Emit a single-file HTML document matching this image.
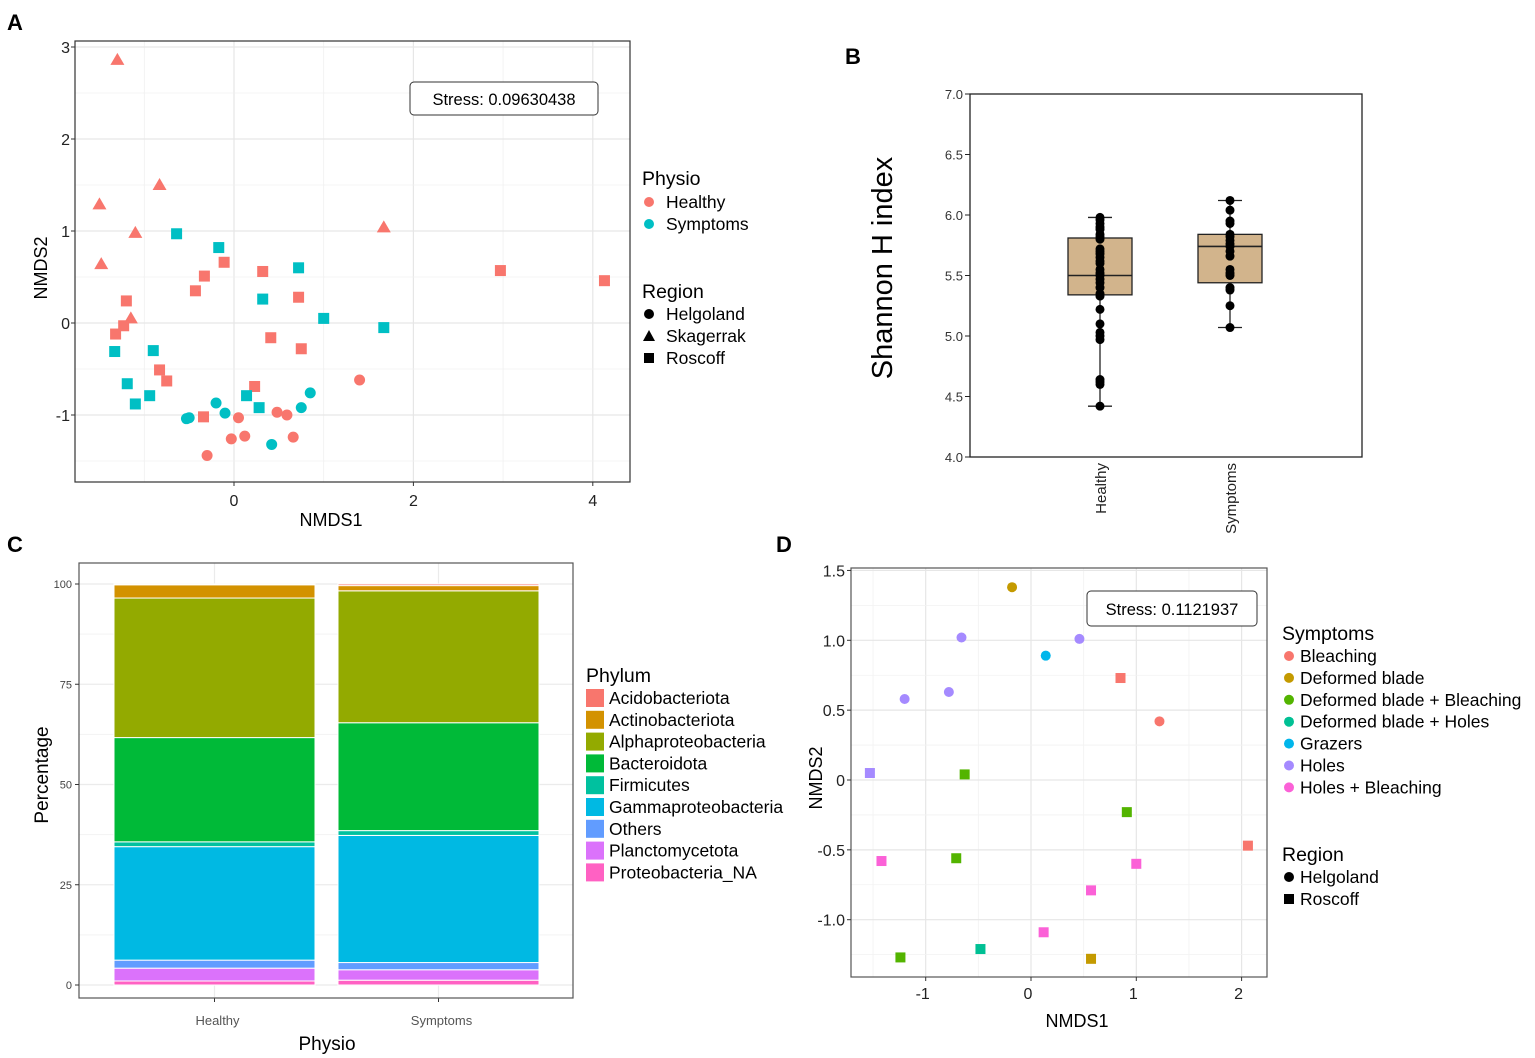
<!DOCTYPE html>
<html><head><meta charset="utf-8"><style>
html,body{margin:0;padding:0;background:#fff;}
svg{display:block;font-family:"Liberation Sans",Arial,sans-serif;}
</style></head><body>
<svg id="fig" width="1535" height="1058" viewBox="0 0 1535 1058"></svg>
<script>
// ---------- Panel A data ----------
const aTriX=[-1.30,-1.50,-0.83,-1.10,-1.48,-1.15,1.67];
const aTriY=[2.86,1.29,1.50,0.98,0.64,0.05,1.04];
const aSqHX=[-1.20,-1.23,-1.32,-0.11,-0.33,-0.43,0.32,0.72,0.41,0.75,-0.83,-0.75,0.23,-0.34,2.97,4.13];
const aSqHY=[0.24,-0.03,-0.12,0.66,0.51,0.35,0.56,0.28,-0.16,-0.28,-0.51,-0.63,-0.69,-1.02,0.57,0.46];
const aSqSX=[-0.64,-0.17,0.72,0.32,1.00,1.67,-1.33,-0.90,-1.19,-1.10,-0.94,0.14,0.28];
const aSqSY=[0.97,0.82,0.60,0.26,0.05,-0.05,-0.31,-0.30,-0.66,-0.88,-0.79,-0.79,-0.92];
const aCiHX=[1.40,0.05,0.48,0.59,-0.03,0.12,0.66,-0.30];
const aCiHY=[-0.62,-1.03,-0.97,-1.00,-1.26,-1.23,-1.24,-1.44];
const aCiSX=[-0.20,-0.10,-0.53,-0.50,0.85,0.75,0.42];
const aCiSY=[-0.87,-0.98,-1.04,-1.03,-0.76,-0.92,-1.32];
const aXTicks=[0,2,4];
const aYTicks=[-1,0,1,2,3];
// ---------- Panel B data ----------
const bGroups=["Healthy","Symptoms"];
const bMin=[4.42,5.07];
const bQ1=[5.34,5.44];
const bMed=[5.50,5.74];
const bQ3=[5.81,5.84];
const bMax=[5.98,6.12];
const bPtsHealthy=[5.98,5.96,5.93,5.90,5.88,5.84,5.82,5.80,5.72,5.70,5.68,5.65,5.62,5.60,5.55,5.52,5.50,5.47,5.44,5.40,5.35,5.33,5.22,5.10,5.03,5.00,4.97,4.64,4.62,4.60,4.42];
const bPtsSymptoms=[6.12,6.04,5.95,5.93,5.84,5.82,5.79,5.76,5.74,5.70,5.66,5.55,5.52,5.50,5.40,5.38,5.25,5.07];
const bYTicks=["4.0","4.5","5.0","5.5","6.0","6.5","7.0"];
// ---------- Panel C data ----------
const cGroups=["Healthy","Symptoms"];
const cPhyla=["Acidobacteriota","Actinobacteriota","Alphaproteobacteria","Bacteroidota","Firmicutes","Gammaproteobacteria","Others","Planctomycetota","Proteobacteria_NA"];
const cHealthy=[0.2,3.3,34.8,26.0,1.2,28.3,2.0,3.2,1.0];
const cSymptoms=[0.4,1.3,32.9,26.9,1.2,31.7,1.8,2.6,1.2];
const cYTicks=[0,25,50,75,100];
// ---------- Panel D data ----------
const dCats=["Bleaching","Deformed blade","Deformed blade + Bleaching","Deformed blade + Holes","Grazers","Holes","Holes + Bleaching"];
const dCircX=[-0.18,-0.66,0.46,-0.78,-1.20,0.14,1.22];
const dCircY=[1.38,1.02,1.01,0.63,0.58,0.89,0.42];
const dCircCat=[1,5,5,5,5,4,0];
const dSqX=[0.85,2.06,-1.53,-0.63,0.91,-0.71,-1.24,-1.42,1.00,0.57,0.12,-0.48,0.57];
const dSqY=[0.73,-0.47,0.05,0.04,-0.23,-0.56,-1.27,-0.58,-0.60,-0.79,-1.09,-1.21,-1.28];
const dSqCat=[0,0,5,2,2,2,2,6,6,6,6,3,1];
const dXTicks=[-1,0,1,2];
const dYTicks=["-1.0","-0.5","0","0.5","1.0","1.5"];

const svg=document.getElementById('fig');
const NS="http://www.w3.org/2000/svg";
function el(tag,attrs,parent){const e=document.createElementNS(NS,tag);for(const k in attrs)e.setAttribute(k,attrs[k]);(parent||svg).appendChild(e);return e;}
function txt(s,attrs,parent){const e=el('text',attrs,parent);e.textContent=s;return e;}
const RED="#F8766D",TEAL="#00BFC4";
const dCols=["#F8766D","#C49A00","#53B400","#00C094","#00B6EB","#A58AFF","#FB61D7"];
const cCols=["#F8766D","#D39200","#93AA00","#00BA38","#00C19F","#00B9E3","#619CFF","#DB72FB","#FF61C3"];

[["A",7,30],["B",845,64],["C",7,552],["D",776,552]].forEach(p=>{
  const t=txt(p[0],{x:p[1],y:p[2],'font-size':22,'font-weight':'bold',fill:'#000'});
  
  
});

// ================= Panel A =================
(function(){
const g=el('g',{});


const L=75,R=630,T=41,B=482;
const sx=v=>234+v*89.7, sy=v=>323-v*92;
for(let v=-1;v<=4;v++){el('line',{x1:sx(v),x2:sx(v),y1:T,y2:B,stroke:v%2===0?'#e6e6e6':'#f0f0f0','stroke-width':v%2===0?1.2:0.8},g);}
for(let v=-1.5;v<=3;v+=0.5){el('line',{x1:L,x2:R,y1:sy(v),y2:sy(v),stroke:Number.isInteger(v)?'#e6e6e6':'#f0f0f0','stroke-width':Number.isInteger(v)?1.2:0.8},g);}
el('rect',{x:L,y:T,width:R-L,height:B-T,fill:'none',stroke:'#333','stroke-width':1.2},g);
aXTicks.forEach(v=>{el('line',{x1:sx(v),x2:sx(v),y1:B,y2:B+4,stroke:'#333'},g);
  const t=txt(String(v),{x:sx(v),y:B+24,'font-size':16,'text-anchor':'middle',fill:'#222'},g);
  });
aYTicks.forEach(v=>{el('line',{x1:L-4,x2:L,y1:sy(v),y2:sy(v),stroke:'#333'},g);
  const t=txt(String(v),{x:L-5,y:sy(v)+6,'font-size':16,'text-anchor':'end',fill:'#222'},g);
  });
const xt=txt("NMDS1",{x:331,y:526,'font-size':18,'text-anchor':'middle'},g);

const yt=txt("NMDS2",{x:0,y:0,'font-size':18,'text-anchor':'middle',transform:'translate(47,268) rotate(-90)'},g);

const tri=(x,y,c)=>{const e=el('polygon',{points:`${x},${y-7} ${x-7},${y+5} ${x+7},${y+5}`,fill:c},g);};
const sq=(x,y,c)=>{const e=el('rect',{x:x-5.5,y:y-5.5,width:11,height:11,fill:c},g);};
const ci=(x,y,c)=>{const e=el('circle',{cx:x,cy:y,r:5.5,fill:c},g);};
aTriX.forEach((v,i)=>tri(sx(v),sy(aTriY[i]),RED));
aSqHX.forEach((v,i)=>sq(sx(v),sy(aSqHY[i]),RED));
aSqSX.forEach((v,i)=>sq(sx(v),sy(aSqSY[i]),TEAL));
aCiHX.forEach((v,i)=>ci(sx(v),sy(aCiHY[i]),RED));
aCiSX.forEach((v,i)=>ci(sx(v),sy(aCiSY[i]),TEAL));
const sb=el('rect',{x:410,y:82,width:188,height:33,rx:4,fill:'#fff',stroke:'#333','stroke-width':1},g);

txt("Stress: 0.09630438",{x:504,y:105,'font-size':16.5,'text-anchor':'middle'},g);
const lg=el('g',{},g);
txt("Physio",{x:642,y:185,'font-size':19.5},lg);
[["Healthy",RED,202],["Symptoms",TEAL,224]].forEach(e=>{el('circle',{cx:649,cy:e[2],r:5,fill:e[1]},lg);
  const t=txt(e[0],{x:666,y:e[2]+6,'font-size':17.5},lg);});
txt("Region",{x:642,y:298,'font-size':19.5},lg);
el('circle',{cx:649,cy:314,r:5,fill:'#000'},lg);
el('polygon',{points:'649,330 643,341 655,341',fill:'#000'},lg);
el('rect',{x:644,y:353,width:10,height:10,fill:'#000'},lg);
[["Helgoland",314],["Skagerrak",336],["Roscoff",358]].forEach(e=>{const t=txt(e[0],{x:666,y:e[1]+6,'font-size':17.5},lg);});
})();

// ================= Panel B =================
(function(){
const g=el('g',{});


const L=970,R=1362,T=94,B=457;
const sy=v=>457-(v-4)*121;
const cx=[1100,1230];
el('rect',{x:L,y:T,width:R-L,height:B-T,fill:'none',stroke:'#222','stroke-width':1.3},g);
bYTicks.forEach(s=>{const v=parseFloat(s);el('line',{x1:L-5,x2:L,y1:sy(v),y2:sy(v),stroke:'#222'},g);
  const t=txt(s,{x:L-7,y:sy(v)+5,'font-size':13,'text-anchor':'end',fill:'#333'},g);
  });
const yt=txt("Shannon H index",{x:0,y:0,'font-size':29,'text-anchor':'middle',transform:'translate(892,268) rotate(-90)'},g);

bGroups.forEach((name,i)=>{
  const x=cx[i];
  el('line',{x1:x,x2:x,y1:sy(bMax[i]),y2:sy(bMin[i]),stroke:'#222','stroke-width':1.3},g);
  el('line',{x1:x-12,x2:x+12,y1:sy(bMax[i]),y2:sy(bMax[i]),stroke:'#222','stroke-width':1.3},g);
  el('line',{x1:x-12,x2:x+12,y1:sy(bMin[i]),y2:sy(bMin[i]),stroke:'#222','stroke-width':1.3},g);
  const bx=el('rect',{x:x-32,y:sy(bQ3[i]),width:64,height:sy(bQ1[i])-sy(bQ3[i]),fill:'#D2B48C',stroke:'#222','stroke-width':1.3},g);
  
  el('line',{x1:x-32,x2:x+32,y1:sy(bMed[i]),y2:sy(bMed[i]),stroke:'#222','stroke-width':1.6},g);
  const pts=i===0?bPtsHealthy:bPtsSymptoms;
  pts.forEach(v=>{const c=el('circle',{cx:x,cy:sy(v),r:4.5,fill:'#000'},g);});
  const t=txt(name,{x:0,y:0,'font-size':15,'text-anchor':'end',fill:'#222',transform:`translate(${x+6},463) rotate(-90)`},g);
  
});
})();

// ================= Panel C =================
(function(){
const g=el('g',{});


const L=79,R=573,T=563,B=998;
const sy=v=>985-v*4.01;
const cx=[214.5,438.5],bw=201;
for(let v=12.5;v<=100;v+=25)el('line',{x1:L,x2:R,y1:sy(v),y2:sy(v),stroke:'#f3f3f3'},g);
cYTicks.forEach(v=>el('line',{x1:L,x2:R,y1:sy(v),y2:sy(v),stroke:'#ebebeb','stroke-width':1.2},g));
cx.forEach(x=>el('line',{x1:x,x2:x,y1:T,y2:B,stroke:'#ebebeb','stroke-width':1.2},g));
cGroups.forEach((name,i)=>{
  const vals=i===0?cHealthy:cSymptoms;
  let cum=0;
  for(let k=vals.length-1;k>=0;k--){
    const y0=sy(cum),y1=sy(cum+vals[k]);cum+=vals[k];
    const r=el('rect',{x:cx[i]-bw/2,y:y1,width:bw,height:Math.max(y0-y1,0.1),fill:cCols[k],stroke:'#fff','stroke-width':1},g);
    
    
  }
  el('line',{x1:cx[i],x2:cx[i],y1:B,y2:B+4,stroke:'#333'},g);
  const t=txt(name,{x:cx[i]+3,y:1025,'font-size':13,'text-anchor':'middle',fill:'#555'},g);
  
});
el('rect',{x:L,y:T,width:R-L,height:B-T,fill:'none',stroke:'#555','stroke-width':1.2},g);
cYTicks.forEach(v=>{el('line',{x1:L-4,x2:L,y1:sy(v),y2:sy(v),stroke:'#333'},g);
  const t=txt(String(v),{x:L-7,y:sy(v)+4,'font-size':11,'text-anchor':'end',fill:'#444'},g);
  });
const xt=txt("Physio",{x:327,y:1050,'font-size':19,'text-anchor':'middle'},g);

const yt=txt("Percentage",{x:0,y:0,'font-size':19,'text-anchor':'middle',transform:'translate(48,775) rotate(-90)'},g);

const lg=el('g',{},g);
txt("Phylum",{x:586,y:682,'font-size':19.5},lg);
cPhyla.forEach((p,k)=>{const y=698+k*21.8;
  el('rect',{x:586,y:y-9,width:18,height:18,fill:cCols[k]},lg);
  const t=txt(p,{x:609,y:y+6,'font-size':17.5},lg);});
})();

// ================= Panel D =================
(function(){
const g=el('g',{});


const L=851,R=1267,T=568,B=977;
const sx=v=>1031+v*105.3, sy=v=>780-v*139.7;
for(let v=-1.5;v<=2.5;v+=0.5){const x=sx(v);if(x>L&&x<R)el('line',{x1:x,x2:x,y1:T,y2:B,stroke:Number.isInteger(v)?'#e6e6e6':'#f2f2f2','stroke-width':Number.isInteger(v)?1.2:0.8},g);}
for(let v=-1.25;v<=1.5;v+=0.25){const y=sy(v);const maj=Math.abs(v*2-Math.round(v*2))<1e-6;if(y>T&&y<B)el('line',{x1:L,x2:R,y1:y,y2:y,stroke:maj?'#e6e6e6':'#f2f2f2','stroke-width':maj?1.2:0.8},g);}
el('rect',{x:L,y:T,width:R-L,height:B-T,fill:'none',stroke:'#555','stroke-width':1.2},g);
dXTicks.forEach(v=>{el('line',{x1:sx(v),x2:sx(v),y1:B,y2:B+4,stroke:'#333'},g);
  const t=txt(String(v),{x:sx(v)-3,y:B+22,'font-size':16,'text-anchor':'middle',fill:'#222'},g);
  });
dYTicks.forEach(s=>{const v=parseFloat(s);el('line',{x1:L-4,x2:L,y1:sy(v),y2:sy(v),stroke:'#333'},g);
  const t=txt(s,{x:L-6,y:sy(v)+6,'font-size':16,'text-anchor':'end',fill:'#222'},g);
  });
const xt=txt("NMDS1",{x:1077,y:1027,'font-size':18,'text-anchor':'middle'},g);

const yt=txt("NMDS2",{x:0,y:0,'font-size':18,'text-anchor':'middle',transform:'translate(822,778) rotate(-90)'},g);

dCircX.forEach((v,i)=>{const c=el('circle',{cx:sx(v),cy:sy(dCircY[i]),r:5,fill:dCols[dCircCat[i]]},g);});
dSqX.forEach((v,i)=>{const c=el('rect',{x:sx(v)-5,y:sy(dSqY[i])-5,width:10,height:10,fill:dCols[dSqCat[i]]},g);});
const sb=el('rect',{x:1087,y:591,width:170,height:35,rx:4,fill:'#fff',stroke:'#333','stroke-width':1},g);

txt("Stress: 0.1121937",{x:1172,y:615,'font-size':16.5,'text-anchor':'middle'},g);
const lg=el('g',{},g);
txt("Symptoms",{x:1282,y:640,'font-size':19.5},lg);
dCats.forEach((c,k)=>{const y=656+k*21.9;
  el('circle',{cx:1289,cy:y,r:5,fill:dCols[k]},lg);
  const t=txt(c,{x:1300,y:y+6,'font-size':17.5},lg);});
txt("Region",{x:1282,y:861,'font-size':19.5},lg);
el('circle',{cx:1289,cy:877,r:5,fill:'#000'},lg);
el('rect',{x:1284,y:894,width:10,height:10,fill:'#000'},lg);
[["Helgoland",877],["Roscoff",899]].forEach(e=>{const t=txt(e[0],{x:1300,y:e[1]+6,'font-size':17.5},lg);});
})();
</script>
</body></html>
